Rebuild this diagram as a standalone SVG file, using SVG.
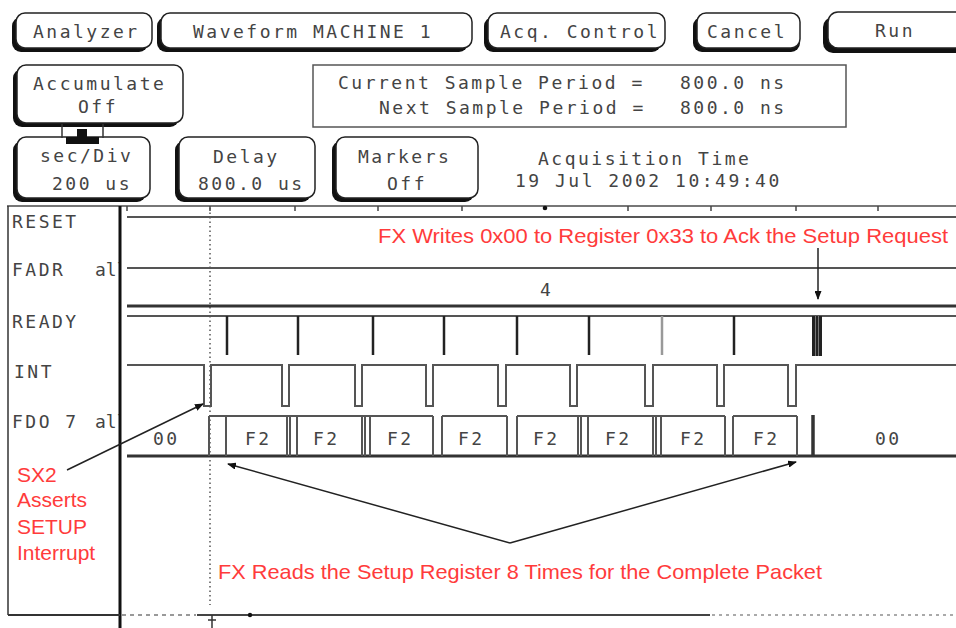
<svg xmlns="http://www.w3.org/2000/svg" width="956" height="628" viewBox="0 0 956 628">
<style>
.sh{fill:#111}
.btn{fill:#fff;stroke:#222;stroke-width:1.5}
.ui{font-family:"DejaVu Sans Mono","Liberation Mono",monospace;font-size:18px;fill:#444;letter-spacing:2.5px}
.tight{letter-spacing:0}
.note{font-family:"Liberation Sans",Arial,sans-serif;font-size:21px;fill:#ff3b3b}
.w{fill:none;stroke:#555;stroke-width:2}
.bus{fill:none;stroke:#333;stroke-width:3}
.pulse{stroke:#222;stroke-width:2.5}
.con{fill:none;stroke:#222;stroke-width:1.5}
.tick{stroke:#444;stroke-width:1.5}
</style>
<defs>
<marker id="ah" markerUnits="userSpaceOnUse" markerWidth="9" markerHeight="7" refX="8" refY="3.5" orient="auto"><path d="M0,0 L9,3.5 L0,7 z" fill="#111"/></marker>
<clipPath id="lab"><rect x="0" y="200" width="119" height="428"/></clipPath>
</defs>
<rect width="956" height="628" fill="#fff"/>

<!-- Top row buttons -->
<g id="btn-analyzer"><rect class="sh" x="12" y="17" width="136" height="35" rx="9"/><rect class="btn" x="16" y="13" width="136" height="35" rx="9"/><text class="ui" x="33" y="38">Analyzer</text></g>
<g id="btn-waveform"><rect class="sh" x="157" y="17" width="311" height="35" rx="9"/><rect class="btn" x="161" y="13" width="311" height="35" rx="9"/><text class="ui" x="193" y="38">Waveform MACHINE 1</text></g>
<g id="btn-acq"><rect class="sh" x="484" y="17" width="177" height="35" rx="9"/><rect class="btn" x="488" y="13" width="177" height="35" rx="9"/><text class="ui" x="500" y="38">Acq. Control</text></g>
<g id="btn-cancel"><rect class="sh" x="693" y="17" width="107" height="35" rx="9"/><rect class="btn" x="697" y="13" width="103" height="35" rx="9"/><text class="ui" x="707" y="38">Cancel</text></g>
<g id="btn-run"><rect class="sh" x="823" y="17" width="150" height="36" rx="10"/><rect class="btn" x="828" y="12" width="150" height="36" rx="10"/><text class="ui" x="875" y="37">Run</text></g>

<!-- Accumulate -->
<g id="btn-accumulate"><rect class="sh" x="13" y="69" width="166" height="58" rx="9"/><rect class="btn" x="17" y="65" width="166" height="58" rx="9"/><text class="ui" x="33" y="90">Accumulate</text><text class="ui" x="78" y="113">Off</text></g>

<!-- Sample period box -->
<g id="sample-period"><rect x="313" y="65" width="533" height="62" fill="#fff" stroke="#555" stroke-width="1.5"/>
<text class="ui" x="338" y="89">Current Sample Period =</text><text class="ui" x="680" y="89">800.0 ns</text>
<text class="ui" x="379" y="114">Next Sample Period =</text><text class="ui" x="680" y="114">800.0 ns</text></g>

<!-- Second row buttons -->
<g id="btn-secdiv"><rect class="sh" x="13" y="141" width="133" height="61" rx="9"/><rect class="btn" x="17" y="137" width="133" height="61" rx="9"/><text class="ui" x="40" y="162">sec/Div</text><text class="ui" x="52" y="190">200 us</text></g>
<g id="link"><line x1="62" y1="124" x2="62" y2="138" stroke="#333" stroke-width="1.5"/><line x1="103" y1="124" x2="103" y2="138" stroke="#333" stroke-width="1.5"/><rect x="77" y="129" width="10" height="9" fill="#111"/><rect x="66" y="137" width="33" height="7" fill="#111"/></g>
<g id="btn-delay"><rect class="sh" x="175" y="141" width="136" height="61" rx="9"/><rect class="btn" x="179" y="137" width="136" height="61" rx="9"/><text class="ui" x="213" y="163">Delay</text><text class="ui" x="198" y="190">800.0 us</text></g>
<g id="btn-markers"><rect class="sh" x="332" y="141" width="142" height="61" rx="9"/><rect class="btn" x="336" y="137" width="142" height="61" rx="9"/><text class="ui" x="358" y="163">Markers</text><text class="ui" x="387" y="190">Off</text></g>
<g id="acq-time"><text class="ui" x="538" y="165">Acquisition Time</text><text class="ui" x="515" y="187">19 Jul 2002 10:49:40</text></g>

<!-- Waveform frame -->
<g id="frame">
<line x1="7" y1="206" x2="956" y2="206" stroke="#777" stroke-width="2"/>
<line x1="8" y1="206" x2="8" y2="615" stroke="#333" stroke-width="1.5"/>
<line x1="120" y1="206" x2="120" y2="628" stroke="#111" stroke-width="3"/>
<line x1="8" y1="615" x2="120" y2="615" stroke="#333" stroke-width="2"/>
<line x1="122" y1="615" x2="196" y2="615" stroke="#999" stroke-width="2" stroke-dasharray="4 4"/>
<line x1="197" y1="615" x2="710" y2="615" stroke="#444" stroke-width="2"/>
<line x1="712" y1="615" x2="956" y2="615" stroke="#aaa" stroke-width="2" stroke-dasharray="3 4"/>
<line x1="212" y1="615" x2="212" y2="628" stroke="#333" stroke-width="1.5"/><line x1="208" y1="620" x2="216" y2="620" stroke="#333" stroke-width="1.5"/>
<circle cx="250" cy="615" r="2.2" fill="#111"/>
<g class="tick"><line x1="127" y1="206" x2="127" y2="211"/><line x1="210" y1="206" x2="210" y2="211"/><line x1="295" y1="206" x2="295" y2="211"/><line x1="378" y1="206" x2="378" y2="211"/><line x1="462" y1="206" x2="462" y2="211"/><line x1="628" y1="206" x2="628" y2="211"/><line x1="711" y1="206" x2="711" y2="211"/><line x1="796" y1="206" x2="796" y2="211"/><line x1="878" y1="206" x2="878" y2="211"/></g>
<circle cx="545" cy="208" r="2.3" fill="#111"/>
<line x1="210" y1="208" x2="210" y2="605" stroke="#555" stroke-width="1.5" stroke-dasharray="1.5 3"/>
</g>

<!-- Labels -->
<g id="labels" clip-path="url(#lab)">
<text class="ui" x="12" y="228">RESET</text>
<text class="ui" x="12" y="276">FADR</text><text class="ui tight" x="95" y="276">all</text>
<text class="ui" x="12" y="328">READY</text>
<text class="ui" x="14" y="378">INT</text>
<text class="ui" x="12" y="428">FDO 7</text><text class="ui tight" x="95" y="428">all</text>
</g>

<!-- Signals -->
<g id="sig-reset"><line class="w" x1="127" y1="217" x2="956" y2="217"/></g>
<g id="sig-fadr"><line class="w" x1="127" y1="268" x2="956" y2="268"/><line class="bus" x1="127" y1="306" x2="956" y2="306"/><text class="ui" x="540" y="296">4</text></g>
<g id="sig-ready"><line class="w" x1="127" y1="316" x2="956" y2="316"/>
<g class="pulse"><line x1="227" y1="316" x2="227" y2="355"/><line x1="298" y1="316" x2="298" y2="355"/><line x1="373" y1="316" x2="373" y2="355"/><line x1="444" y1="316" x2="444" y2="355"/><line x1="517" y1="316" x2="517" y2="355"/><line x1="589" y1="316" x2="589" y2="355"/><line x1="662" y1="316" x2="662" y2="355" stroke="#999"/><line x1="734" y1="316" x2="734" y2="355"/></g>
<rect x="812" y="316" width="10" height="40" fill="#222"/><line x1="815.5" y1="316" x2="815.5" y2="356" stroke="#777" stroke-width="1"/><line x1="818.5" y1="316" x2="818.5" y2="356" stroke="#777" stroke-width="1"/></g>
<g id="sig-int"><path class="w" d="M127,365 H204 V406 H211 V365 H282 V406 H289 V365 H355 V406 H362 V365 H426 V406 H433 V365 H498 V406 H506 V365 H570 V406 H577 V365 H645 V406 H653 V365 H717 V406 H724 V365 H788 V406 H796 V365 H956"/></g>
<g id="sig-fdo">
<line class="bus" x1="127" y1="456" x2="956" y2="456"/>
<path class="w" d="M209,416 H433 M442,416 H507 M517,416 H725 M733,416 H797 M209,416 V456 M226,416 V456 M287,416 V456 M290,416 V456 M297,416 V456 M362,416 V456 M365,416 V456 M370,416 V456 M433,416 V456 M442,416 V456 M507,416 V456 M517,416 V456 M578,416 V456 M581,416 V456 M588,416 V456 M653,416 V456 M656,416 V456 M661,416 V456 M725,416 V456 M733,416 V456 M797,416 V456"/>
<line x1="813" y1="415" x2="813" y2="456" stroke="#333" stroke-width="3.5"/>
<text class="ui" x="153" y="445">00</text>
<text class="ui" x="245" y="445">F2</text><text class="ui" x="313" y="445">F2</text><text class="ui" x="387" y="445">F2</text><text class="ui" x="458" y="445">F2</text><text class="ui" x="533" y="445">F2</text><text class="ui" x="605" y="445">F2</text><text class="ui" x="680" y="445">F2</text><text class="ui" x="753" y="445">F2</text>
<text class="ui" x="875" y="445">00</text>
</g>

<!-- Annotations -->
<g id="note-writes"><text class="note" x="378" y="243" textLength="570" lengthAdjust="spacingAndGlyphs">FX Writes 0x00 to Register 0x33 to Ack the Setup Request</text></g>
<g id="note-sx2"><text class="note" x="17" y="482">SX2</text><text class="note" x="17" y="507">Asserts</text><text class="note" x="17" y="534">SETUP</text><text class="note" x="17" y="560">Interrupt</text></g>
<g id="note-reads"><text class="note" x="218" y="579" textLength="604" lengthAdjust="spacingAndGlyphs">FX Reads the Setup Register 8 Times for the Complete Packet</text></g>

<g id="connectors">
<line class="con" x1="67" y1="470" x2="203" y2="404" marker-end="url(#ah)"/>
<line class="con" x1="510" y1="543" x2="228" y2="464" marker-end="url(#ah)"/>
<line class="con" x1="510" y1="543" x2="796" y2="462" marker-end="url(#ah)"/>
<line class="con" x1="818" y1="248" x2="818" y2="299" marker-end="url(#ah)"/>
</g>
</svg>
